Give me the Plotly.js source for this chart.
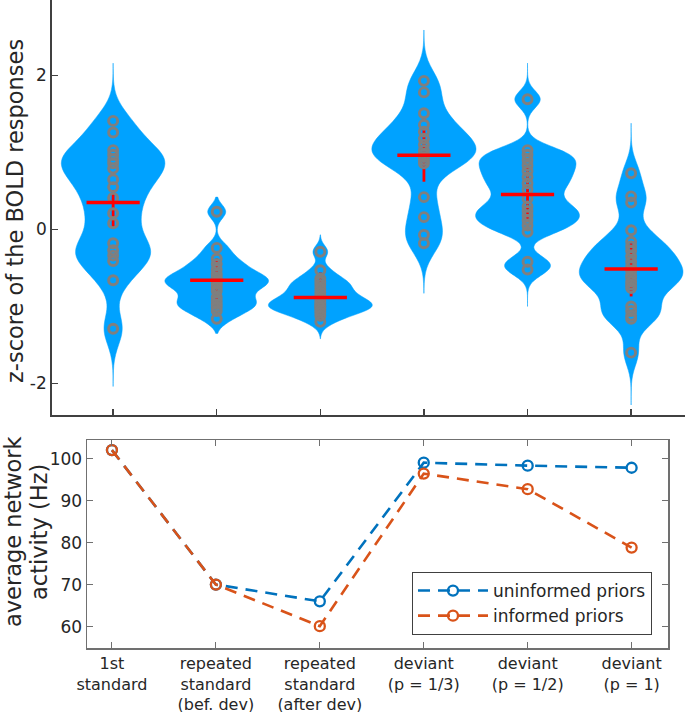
<!DOCTYPE html>
<html><head><meta charset="utf-8">
<script src="https://cdn.plot.ly/plotly-3.0.1.min.js"></script>
<style>html,body{margin:0;padding:0;background:#fff}#chart{width:685px;height:712px}</style>
</head><body><div id="chart"></div>
<script>
// ---- data ----
const conditions = [1, 2, 3, 4, 5, 6];
const conditionLabels = [
  '1st<br>standard',
  'repeated<br>standard<br>(bef. dev)',
  'repeated<br>standard<br>(after dev)',
  'deviant<br>(p = 1/3)',
  'deviant<br>(p = 1/2)',
  'deviant<br>(p = 1)'
];
const boldFirstStandard = [1.41, 1.26, 1.03, 0.97, 0.91, 0.86, 0.79, 0.65, 0.55, 0.41, 0.21, 0.08, -0.18, -0.27, -0.34, -0.41, -0.66, -1.29];
const boldRepBefore = [0.23, -0.24, -0.38, -0.45, -0.52, -0.58, -0.62, -0.65, -0.68, -0.71, -0.75, -0.80, -0.88, -0.93, -0.97, -1.01, -1.06, -1.16];
const boldRepAfter = [-0.29, -0.53, -0.64, -0.68, -0.72, -0.77, -0.82, -0.86, -0.90, -0.93, -0.96, -0.98, -1.00, -1.02, -1.05, -1.08, -1.12, -1.20];
const boldDev13 = [1.93, 1.78, 1.51, 1.36, 1.27, 1.18, 1.10, 1.03, 0.98, 0.94, 0.90, 0.86, 0.42, 0.16, -0.07, -0.18];
const boldDev12 = [1.69, 1.03, 0.97, 0.90, 0.83, 0.76, 0.68, 0.60, 0.52, 0.40, 0.30, 0.24, 0.18, 0.12, 0.05, -0.03, -0.42, -0.52];
const boldDev1 = [0.73, 0.43, 0.35, -0.01, -0.16, -0.22, -0.28, -0.35, -0.42, -0.48, -0.54, -0.60, -0.62, -0.68, -0.72, -0.76, -1.00, -1.06, -1.12, -1.16, -1.60];
const boldMeans = [0.35, -0.66, -0.885, 0.965, 0.455, -0.515];
const boldBarLow = [0.01, -0.93, -1.19, 0.62, 0.10, -0.87];
const boldBarHigh = [0.51, -0.38, -0.56, 1.31, 0.83, -0.18];
const uninformedPriors = [102.1, 70.1, 66.1, 99.1, 98.4, 97.9];
const informedPriors = [102.1, 70.1, 60.2, 96.5, 92.8, 78.9];

// ---- styling / kde settings ----
const boldGroups = [boldFirstStandard, boldRepBefore, boldRepAfter, boldDev13, boldDev12, boldDev1];
const bandwidths = [0.21, 0.09, 0.08, 0.2, 0.11, 0.17];
const spans = [[-2.04, 2.16], [-1.35, 0.42], [-1.42, -0.07], [-0.83, 2.59], [-1.0, 2.16], [-2.28, 1.38]];
const violinColor = '#00A2FF';
const txt = '#262626';
const font = 'DejaVu Sans, sans-serif';
const W = 685, H = 712;

const traces = [];
boldGroups.forEach((vals, i) => {
  traces.push({
    type: 'violin', xaxis: 'x', yaxis: 'y',
    x: vals.map(() => conditions[i]), y: vals,
    width: 1.0, bandwidth: bandwidths[i], spanmode: 'manual', span: spans[i],
    scalemode: 'width',
    fillcolor: violinColor, line: {color: violinColor, width: 0.5}, opacity: 1,
    points: false,
    box: {visible: false}, meanline: {visible: false},
    showlegend: false, hoverinfo: 'skip'
  });
});
// vertical red bars (under the data points)
traces.push({
  type: 'scatter', mode: 'markers', xaxis: 'x', yaxis: 'y',
  x: conditions, y: boldMeans,
  marker: {size: 1, color: 'rgba(0,0,0,0)'},
  error_y: {type: 'data', symmetric: false,
    array: boldMeans.map((m, i) => boldBarHigh[i] - m),
    arrayminus: boldMeans.map((m, i) => m - boldBarLow[i]),
    color: '#FF0000', thickness: 2.8, width: 0},
  showlegend: false, hoverinfo: 'skip'
});
// individual data points
const ptX = [], ptY = [];
boldGroups.forEach((vals, i) => vals.forEach(v => { ptX.push(conditions[i]); ptY.push(v); }));
traces.push({
  type: 'scatter', mode: 'markers', xaxis: 'x', yaxis: 'y',
  x: ptX, y: ptY,
  marker: {symbol: 'circle-open', size: 9, color: '#7F7F7F', line: {width: 2.9, color: '#7F7F7F'}},
  showlegend: false, hoverinfo: 'skip'
});
// mean lines
traces.push({
  type: 'scatter', mode: 'markers', xaxis: 'x', yaxis: 'y',
  x: conditions, y: boldMeans,
  marker: {symbol: 'line-ew', size: 38, color: '#FF0000', line: {width: 3.5, color: '#FF0000'}},
  showlegend: false, hoverinfo: 'skip'
});
traces.push({
  type: 'scatter', mode: 'lines+markers', xaxis: 'x2', yaxis: 'y2',
  name: 'uninformed priors', x: conditions, y: uninformedPriors,
  line: {color: '#0072BD', width: 2.6, dash: '12px,8px'},
  marker: {symbol: 'circle-open', size: 10, color: '#0072BD', line: {width: 2.3, color: '#0072BD'}}
});
traces.push({
  type: 'scatter', mode: 'lines+markers', xaxis: 'x2', yaxis: 'y2',
  name: 'informed priors', x: conditions, y: informedPriors,
  line: {color: '#D95319', width: 2.6, dash: '12px,8px'},
  marker: {symbol: 'circle-open', size: 10, color: '#D95319', line: {width: 2.3, color: '#D95319'}}
});

const layout = {
  width: W, height: H,
  margin: {l: 0, r: 0, t: 0, b: 0},
  paper_bgcolor: '#fff', plot_bgcolor: 'rgba(0,0,0,0)',
  font: {family: font, color: txt, size: 16},
  violinmode: 'overlay',
  showlegend: true,
  xaxis: {
    domain: [52 / W, 1], range: [0.41, 6.52], type: 'linear',
    tickvals: conditions, showticklabels: false,
    ticks: 'inside', ticklen: 6, tickwidth: 1.5, tickcolor: '#404040',
    showline: true, linecolor: '#404040', linewidth: 1.8,
    showgrid: false, zeroline: false, anchor: 'y'
  },
  yaxis: {
    domain: [1 - 415 / H, 1], range: [-2.41, 2.98],
    tickvals: [-2, 0, 2], ticktext: ['-2', '0', '2'],
    ticks: 'inside', ticklen: 6, tickwidth: 1.5, tickcolor: '#404040',
    showline: true, linecolor: '#404040', linewidth: 1.8,
    tickfont: {size: 17, color: txt},
    showgrid: false, zeroline: false, anchor: 'x'
  },
  xaxis2: {
    domain: [87 / W, 668 / W], range: [0.76, 6.35], type: 'linear',
    tickvals: conditions, ticktext: conditionLabels,
    ticks: 'inside', ticklen: 6, tickwidth: 1, tickcolor: '#707070',
    showline: true, linecolor: '#707070', linewidth: 1.5, mirror: 'ticks',
    tickfont: {size: 16, color: txt},
    showgrid: false, zeroline: false, anchor: 'y2'
  },
  yaxis2: {
    domain: [1 - 648 / H, 1 - 440 / H], range: [55, 104.5],
    tickvals: [60, 70, 80, 90, 100],
    ticks: 'inside', ticklen: 6, tickwidth: 1, tickcolor: '#707070',
    showline: true, linecolor: '#707070', linewidth: 1.5, mirror: 'ticks',
    tickfont: {size: 17, color: txt},
    showgrid: false, zeroline: false, anchor: 'x2'
  },
  legend: {
    x: 652 / W, xanchor: 'right', y: 1 - 572 / H, yanchor: 'top',
    bgcolor: '#fff', bordercolor: '#404040', borderwidth: 1,
    font: {size: 17, color: txt}, itemwidth: 70, tracegroupgap: 2
  },
  annotations: [
    {xref: 'paper', yref: 'paper', x: 15 / W, y: 1 - 211 / H, xanchor: 'center', yanchor: 'middle',
     showarrow: false, text: 'z-score of the BOLD responses', textangle: -90,
     font: {size: 22.5, color: txt}},
    {xref: 'paper', yref: 'paper', x: 13 / W, y: 1 - 532 / H, xanchor: 'center', yanchor: 'middle',
     showarrow: false, text: 'average network', textangle: -90,
     font: {size: 22.5, color: txt}},
    {xref: 'paper', yref: 'paper', x: 39 / W, y: 1 - 532 / H, xanchor: 'center', yanchor: 'middle',
     showarrow: false, text: 'activity (Hz)', textangle: -90,
     font: {size: 22.5, color: txt}}
  ]
};

Plotly.newPlot('chart', traces, layout, {displayModeBar: false, staticPlot: true});
</script>
</body></html>
